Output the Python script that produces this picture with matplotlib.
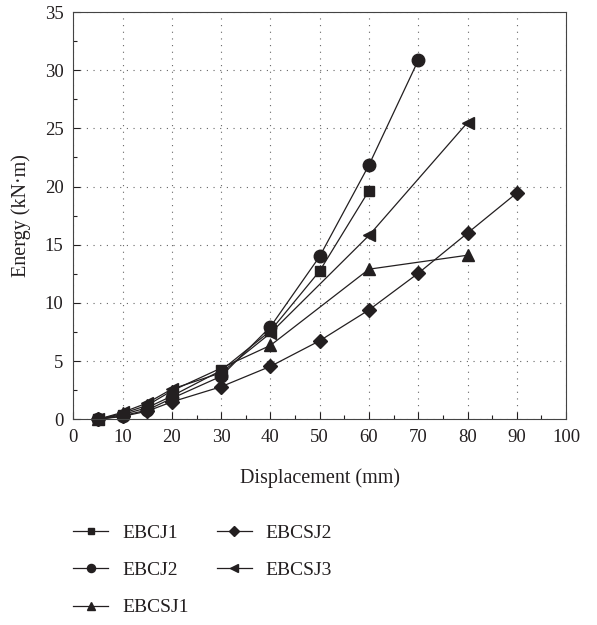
import matplotlib.pyplot as plt
from matplotlib.ticker import MultipleLocator

plt.rcParams['font.family'] = ['Liberation Serif', 'DejaVu Serif']

# data
x_ebcj1 = [5, 10, 15, 20, 30, 40, 50, 60]
y_ebcj1 = [0, 0.4, 1.0, 2.0, 4.2, 7.6, 12.75, 19.65]

x_ebcj2 = [5, 10, 15, 20, 30, 40, 50, 60, 70]
y_ebcj2 = [0, 0.3, 0.8, 1.8, 3.7, 7.95, 14.0, 21.85, 30.85]

x_ebcsj1 = [5, 10, 15, 20, 40, 60, 80]
y_ebcsj1 = [0, 0.5, 1.2, 2.45, 6.35, 12.9, 14.1]

x_ebcsj2 = [5, 10, 15, 20, 30, 40, 50, 60, 70, 80, 90]
y_ebcsj2 = [0, 0.25, 0.7, 1.5, 2.8, 4.55, 6.75, 9.4, 12.55, 16.0, 19.45]

x_ebcsj3 = [5, 10, 15, 20, 30, 40, 60, 80]
y_ebcsj3 = [0, 0.6, 1.4, 2.6, 4.0, 7.4, 15.8, 25.5]

c = '#231f20'

fig = plt.figure(figsize=(5.97, 6.25), dpi=100)
ax = fig.add_axes([0.1228, 0.3291, 0.8254, 0.6517])

series = [
    (x_ebcj1, y_ebcj1, 's', 7.5, 'EBCJ1'),
    (x_ebcj2, y_ebcj2, 'o', 9, 'EBCJ2'),
    (x_ebcsj1, y_ebcsj1, '^', 9, 'EBCSJ1'),
    (x_ebcsj2, y_ebcsj2, 'D', 7.5, 'EBCSJ2'),
    (x_ebcsj3, y_ebcsj3, '<', 9, 'EBCSJ3'),
]
for xs, ys, m, ms, lab in series:
    ax.plot(xs, ys, marker=m, ms=ms, color=c, lw=0.9, label=lab, clip_on=False)

ax.set_xlim(0, 100)
ax.set_ylim(0, 35)
ax.xaxis.set_major_locator(MultipleLocator(10))
ax.xaxis.set_minor_locator(MultipleLocator(5))
ax.yaxis.set_major_locator(MultipleLocator(5))
ax.yaxis.set_minor_locator(MultipleLocator(2.5))
ax.tick_params(which='both', direction='in', top=False, right=False,
               colors=c, labelsize=13.5, width=0.8)
ax.tick_params(which='major', length=5, pad=7)
ax.tick_params(which='minor', length=3)
ax.grid(True, which='major', color='#666666', linestyle=(0, (1, 5)), lw=0.8)
for s in ax.spines.values():
    s.set_color('#444444')
    s.set_linewidth(0.8)

ax.set_xlabel('Displacement (mm)', fontsize=14.5, color=c, labelpad=16)
ax.set_ylabel('Energy (kN·m)', fontsize=14.5, color=c, labelpad=10)

leg = fig.legend(ncol=2, loc='upper left', bbox_to_anchor=(73 / 597, 1 - 524 / 625),
                 frameon=False, fontsize=14, markerscale=0.65,
                 handlelength=1.8, handletextpad=0.72, columnspacing=1.45,
                 labelspacing=1.02, borderpad=0, borderaxespad=0)
for t in leg.get_texts():
    t.set_color(c)

plt.savefig('out.png', dpi=100)
